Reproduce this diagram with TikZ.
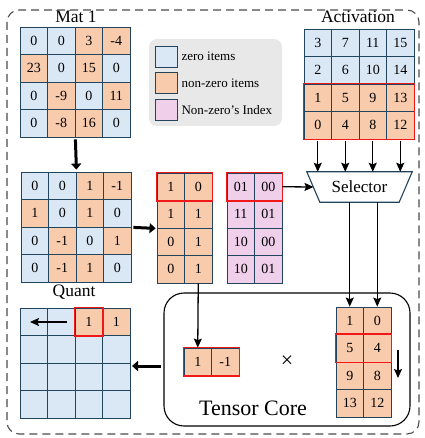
\documentclass[tikz,border=0pt]{standalone}
\usepackage{fontspec}
\setmainfont{Liberation Serif}
\usetikzlibrary{arrows.meta}
\definecolor{Z}{HTML}{DAE8F6}
\definecolor{N}{HTML}{F8CBAD}
\definecolor{P}{HTML}{F0CFEB}
\definecolor{bord}{HTML}{23445D}
\definecolor{redb}{HTML}{F01818}
\definecolor{leg}{HTML}{E8E8E8}
\tikzset{
  cell/.style={draw=bord, line width=0.8pt, minimum width=27.5pt, minimum height=27.5pt, inner sep=0pt, font=\fontsize{14}{14}\selectfont},
  redframe/.style={draw=redb, line width=1.5pt},
  thin arrow/.style={line width=1.3pt, -{Stealth[length=9pt,width=8pt,inset=1.5pt]}},
  thick arrow/.style={line width=3pt, -{Stealth[length=6pt,width=10pt,inset=0pt]}},
  title/.style={font=\fontsize{17.5}{17.5}\selectfont, inner sep=0pt},
  legtext/.style={font=\fontsize{13}{13}\selectfont, anchor=west, inner sep=0pt},
  legbox/.style={draw=bord, line width=0.8pt, minimum width=22pt, minimum height=21pt, inner sep=0pt},
}
\newcommand\gridrow[5]{%
  \foreach \v/\f [count=\c] in {#5} {%
    \node[cell, fill=\f] (#1-#2-\c) at ({#3+(\c-0.5)*27.5},{#4+(#2-0.5)*27.5}) {\v};}}
\begin{document}
\begin{tikzpicture}[x=1pt,y=-1pt]
\useasboundingbox (0,0) rectangle (424,438);
% outer dashed frame
\draw[draw=black!70, line width=1.1pt, dash pattern=on 8pt off 5pt, rounded corners=12pt] (7,10) rectangle (419,434);

% Mat 1
\node[title] (t1) at (76,17) {Mat 1};
\gridrow{m1}{1}{20}{27}{0/Z,0/Z,3/N,-4/N}
\gridrow{m1}{2}{20}{27}{23/N,0/Z,15/N,0/Z}
\gridrow{m1}{3}{20}{27}{0/Z,-9/N,0/Z,11/N}
\gridrow{m1}{4}{20}{27}{0/Z,-8/N,16/N,0/Z}

% legend
\fill[leg, rounded corners=8pt] (149,39) rectangle (282,126);
\node[legbox, fill=Z] (lz) at (166,56.5) {};
\node[legbox, fill=N] (ln) at (166,83) {};
\node[legbox, fill=P] (lp) at (166,110) {};
\node[legtext] (lzt) at ([xshift=4pt]lz.east) {zero items};
\node[legtext] (lnt) at ([xshift=4pt]ln.east) {non-zero items};
\node[legtext] (lpt) at ([xshift=4pt]lp.east) {Non-zero’s Index};

% Activation
\node[title] (ta) at (358,17) {Activation};
\gridrow{ac}{1}{304}{29}{3/Z,7/Z,11/Z,15/Z}
\gridrow{ac}{2}{304}{29}{2/Z,6/Z,10/Z,14/Z}
\gridrow{ac}{3}{304}{29}{1/N,5/N,9/N,13/N}
\gridrow{ac}{4}{304}{29}{0/N,4/N,8/N,12/N}
\draw[redframe] (ac-3-1.north west) rectangle (ac-4-4.south east);

% Quant
\gridrow{q}{1}{21}{172}{0/Z,0/Z,1/N,-1/N}
\gridrow{q}{2}{21}{172}{1/N,0/Z,1/N,0/Z}
\gridrow{q}{3}{21}{172}{0/Z,-1/N,0/Z,1/N}
\gridrow{q}{4}{21}{172}{0/Z,-1/N,1/N,0/Z}
\node[title] (tq) at (74,292) {Quant};

% compressed
\gridrow{c}{1}{157}{173}{1/N,0/N}
\gridrow{c}{2}{157}{173}{1/N,1/N}
\gridrow{c}{3}{157}{173}{0/N,1/N}
\gridrow{c}{4}{157}{173}{0/N,1/N}
\draw[redframe] (c-1-1.north west) rectangle (c-1-2.south east);

% index
\gridrow{ix}{1}{227}{173}{01/P,00/P}
\gridrow{ix}{2}{227}{173}{11/P,01/P}
\gridrow{ix}{3}{227}{173}{10/P,00/P}
\gridrow{ix}{4}{227}{173}{10/P,01/P}
\draw[redframe] (ix-1-1.north west) rectangle (ix-1-2.south east);

% selector
\node[minimum width=105pt, minimum height=30pt, inner sep=0pt] (sel) at (359.5,187) {};
\draw[draw=bord, line width=1.1pt, fill=white] (sel.north west) -- (sel.north east) -- ([xshift=-13pt]sel.south east) -- ([xshift=13pt]sel.south west) -- cycle;
\node[font=\fontsize{17}{17}\selectfont] (selt) at (sel.center) {Selector};
\coordinate (selL) at (313.5,187);

% tensor core
\draw[line width=1.1pt, rounded corners=20pt] (164,293) rectangle (410,426);
\node[font=\fontsize{22}{22}\selectfont] (tc) at (253,408) {Tensor Core};
\gridrow{a}{1}{184}{348}{1/N,-1/N}
\draw[redframe] (a-1-1.north west) rectangle (a-1-2.south east);
\node[font=\fontsize{22}{22}\selectfont] (times) at (287,362) {×};
\gridrow{b}{1}{336}{307}{1/N,0/N}
\gridrow{b}{2}{336}{307}{5/N,4/N}
\gridrow{b}{3}{336}{307}{9/N,8/N}
\gridrow{b}{4}{336}{307}{13/N,12/N}
\draw[redframe] (b-2-1.north west) rectangle (b-2-2.south east);
\coordinate (bd1) at (398,350);
\coordinate (bd2) at (398,378);
\draw[thin arrow] (bd1) -- (bd2);

% output
\gridrow{o}{1}{20}{308}{/Z,/Z,1/N,1/N}
\gridrow{o}{2}{20}{308}{/Z,/Z,/Z,/Z}
\gridrow{o}{3}{20}{308}{/Z,/Z,/Z,/Z}
\gridrow{o}{4}{20}{308}{/Z,/Z,/Z,/Z}
\draw[redframe] (o-1-3.north west) rectangle (o-1-3.south east);
\coordinate (oa1) at (67,322);
\coordinate (oa2) at (30,322);
\draw[thin arrow] (oa1) -- (oa2);

% thick arrows
\draw[thick arrow] (m1-4-2.south east) ++(0,-2pt) -- ([yshift=2pt]q-1-2.north east);
\draw[thick arrow] ([xshift=2pt]q-2-4.south east) -- ([xshift=-1pt]c-2-1.south west);
\coordinate (tcl) at (161,366);
\coordinate (outr) at (132,366);
\draw[thick arrow] (tcl) -- (outr);

% thin arrows
\foreach \c in {1,2,3,4} {
  \draw[thin arrow] ([yshift=-2pt]ac-4-\c.south) -- (ac-4-\c.south |- sel.north);
}
\draw[thin arrow] (ix-1-2.east) -- (selL);
\draw[thin arrow] (b-1-1.north |- sel.south) -- (b-1-1.north);
\draw[thin arrow] (b-1-2.north |- sel.south) -- (b-1-2.north);
\draw[thin arrow] (c-4-2.south) -- (a-1-1.north);
\end{tikzpicture}
\end{document}
